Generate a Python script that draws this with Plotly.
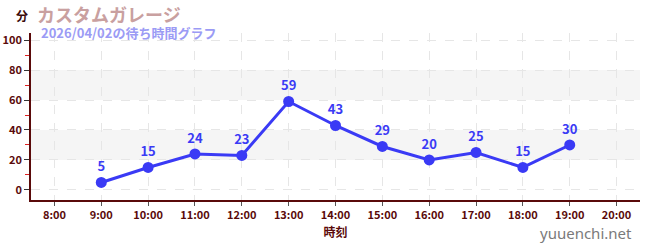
import plotly.graph_objects as go

hours = [9, 10, 11, 12, 13, 14, 15, 16, 17, 18, 19]
waits = [5, 15, 24, 23, 59, 43, 29, 20, 25, 15, 30]
tick_vals = list(range(8, 21))
tick_text = [f"{h}:00" for h in tick_vals]
title = "カスタムガレージ"
subtitle = "2026/04/02の待ち時間グラフ"

axis_color = "#5a0a0a"
font = "Noto Sans CJK JP"

fig = go.Figure()
fig.add_trace(go.Scatter(
    x=hours, y=waits, mode="lines+markers+text",
    line=dict(color="#3a3af5", width=3),
    marker=dict(size=11, color="#3a3af5"),
    text=[str(v) for v in waits], textposition="top center",
    textfont=dict(color="#3a3af5", size=13, family=font, weight="bold"),
    cliponaxis=False, hoverinfo="skip"))

for lo, hi in [(20, 40), (60, 80)]:
    fig.add_shape(type="rect", xref="paper", yref="y", x0=0, x1=1, y0=lo, y1=hi,
                  fillcolor="#f5f5f5", line_width=0, layer="below")

fig.update_layout(
    width=650, height=250, margin=dict(l=31, r=10, t=33, b=50),
    paper_bgcolor="white", plot_bgcolor="white", showlegend=False,
    font=dict(family=font, color=axis_color),
    xaxis=dict(range=[7.5, 20.5], tickvals=tick_vals, ticktext=tick_text, automargin=False,
               showline=True, linecolor=axis_color, linewidth=1.5,
               ticks="outside", ticklen=4, tickcolor="#555",
               tickfont=dict(size=11, color=axis_color, weight="bold"),
               showgrid=True, gridcolor="#e6e6e6", griddash="dash", zeroline=False,
               title=dict(text="時刻", font=dict(size=12, color=axis_color, weight="bold"), standoff=8)),
    yaxis=dict(range=[-6.7, 104.7], tickvals=[0, 20, 40, 60, 80, 100], automargin=False,
               showline=True, linecolor=axis_color, linewidth=1.5,
               ticks="outside", ticklen=5, tickcolor="#333",
               tickfont=dict(size=11, color=axis_color, weight="bold"),
               showgrid=True, gridcolor="#e6e6e6", griddash="dash", zeroline=False,
               minor=dict(tickvals=[10, 30, 50, 70, 90], ticks="outside", ticklen=4,
                          tickcolor="#dd2222", showgrid=False)),
)

fig.add_annotation(text="分", xref="paper", yref="paper", x=0, xshift=-17, y=1.0, yshift=18,
                   xanchor="left", yanchor="middle", showarrow=False,
                   font=dict(size=12, color="#3a0a0a", weight="bold"))
fig.add_annotation(text=title, xref="paper", yref="paper", x=0, xshift=4, y=1.0, yshift=19,
                   xanchor="left", yanchor="middle", showarrow=False,
                   font=dict(size=18, color="#c9a0a0", weight="bold"))
fig.add_annotation(text=subtitle, xref="paper", yref="paper", x=0, xshift=8, y=1.0, yshift=1,
                   xanchor="left", yanchor="middle", showarrow=False,
                   font=dict(size=13, color="#9b9bf5", weight="bold"))
fig.add_annotation(text="yuuenchi.net", xref="paper", yref="paper", x=1.0, xshift=-6, y=0, yshift=-33,
                   xanchor="right", yanchor="middle", showarrow=False,
                   font=dict(size=15, color="#7a7a7a", family="Noto Sans"))

fig.write_html("out.html")
